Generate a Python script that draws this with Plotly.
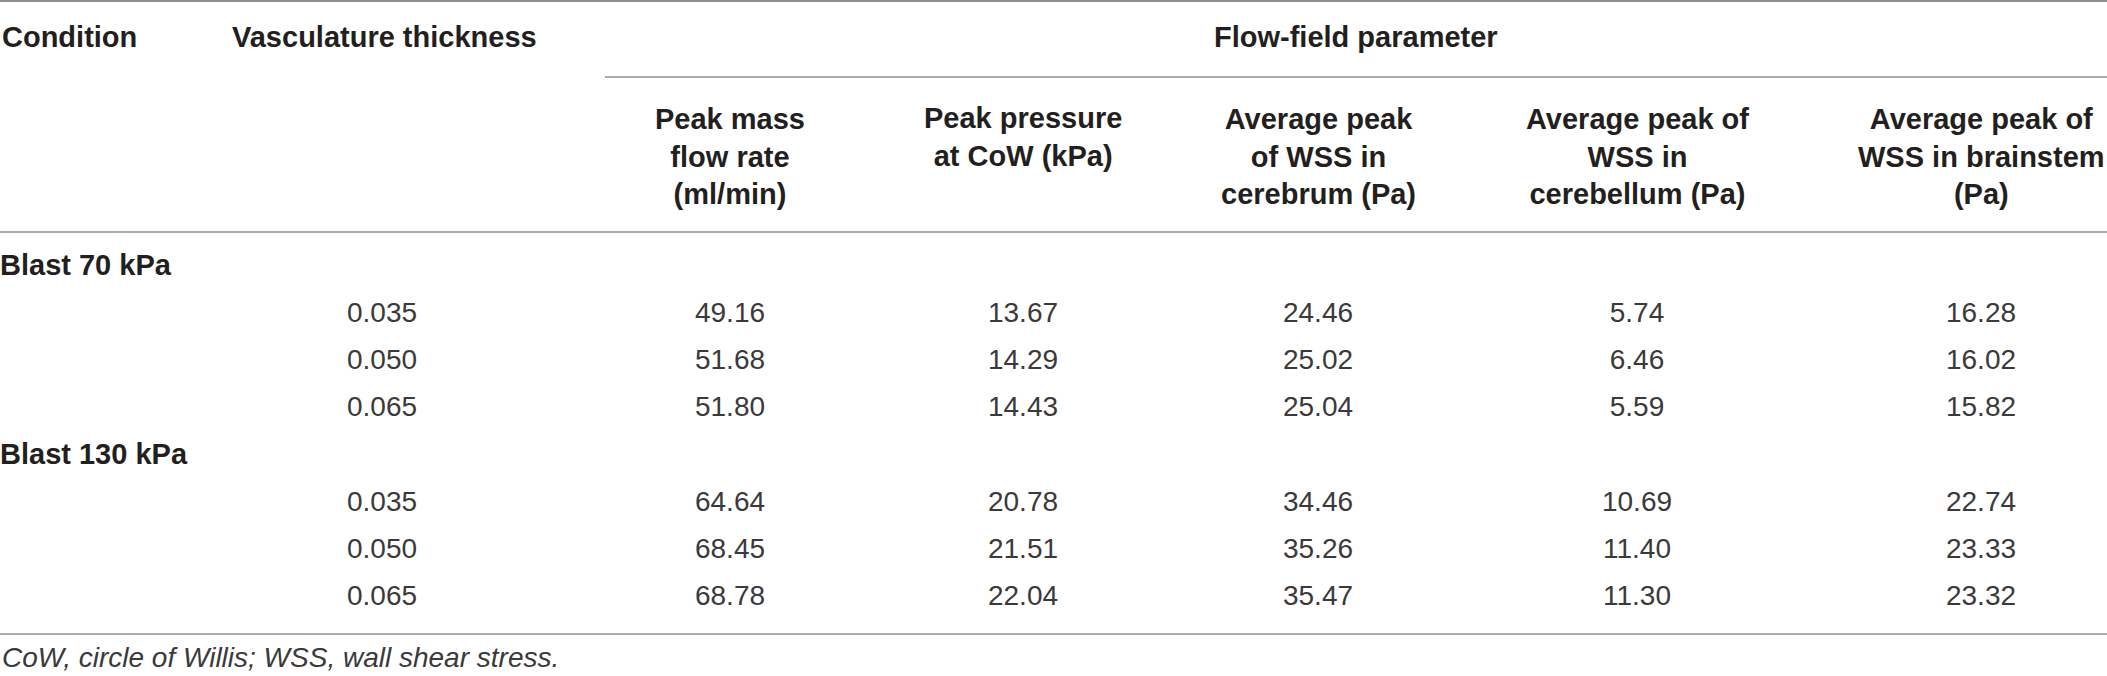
import plotly.graph_objects as go

# Table content
conditions = ["Blast 70 kPa", "Blast 130 kPa"]
thickness = ["0.035", "0.050", "0.065"]

col_headers = [
    "Peak mass<br>flow rate<br>(ml/min)",
    "Peak pressure<br>at CoW (kPa)",
    "Average peak<br>of WSS in<br>cerebrum (Pa)",
    "Average peak of<br>WSS in<br>cerebellum (Pa)",
    "Average peak of<br>WSS in brainstem<br>(Pa)",
]

mass_flow = [49.16, 51.68, 51.80, 64.64, 68.45, 68.78]
pressure_cow = [13.67, 14.29, 14.43, 20.78, 21.51, 22.04]
wss_cerebrum = [24.46, 25.02, 25.04, 34.46, 35.26, 35.47]
wss_cerebellum = [5.74, 6.46, 5.59, 10.69, 11.40, 11.30]
wss_brainstem = [16.28, 16.02, 15.82, 22.74, 23.33, 23.32]

footnote = "CoW, circle of Willis; WSS, wall shear stress."

# Layout (pixel space)
W, H = 2107, 676
thick_x = 382
value_cols_x = [730, 1023, 1318, 1637, 1981]
row0_y, row_step = 268, 47.1
bold = dict(family="Liberation Sans", size=29, color="#231f20", weight="bold")
plain = dict(family="Liberation Sans", size=28, color="#3a3a3a")
rule = "#8f8f8f"

fig = go.Figure()

# row positions: group label, then three thickness rows per group
label_y, data_y, data_thick = [], [], []
i = 0
for c in conditions:
    label_y.append(row0_y + i * row_step)
    i += 1
    for t in thickness:
        data_y.append(row0_y + i * row_step)
        data_thick.append(t)
        i += 1

fig.add_trace(go.Scatter(
    x=[0] * len(conditions), y=label_y, text=conditions, mode="text",
    textposition="middle right", textfont=bold, hoverinfo="skip"))

fig.add_trace(go.Scatter(
    x=[thick_x] * len(data_thick), y=data_y, text=data_thick, mode="text",
    textposition="middle center", textfont=plain, hoverinfo="skip"))

series = [mass_flow, pressure_cow, wss_cerebrum, wss_cerebellum, wss_brainstem]
for cx, vals in zip(value_cols_x, series):
    fig.add_trace(go.Scatter(
        x=[cx] * len(vals), y=data_y, text=[f"{v:.2f}" for v in vals],
        mode="text", textposition="middle center", textfont=plain,
        hoverinfo="skip"))

# header texts
ann = [
    dict(x=0, y=37, text="Condition", xanchor="left"),
    dict(x=230, y=37, text="Vasculature thickness", xanchor="left"),
    dict(x=(605 + W) / 2, y=37, text="Flow-field parameter", xanchor="center"),
]
for cx, h in zip(value_cols_x, col_headers):
    ann.append(dict(x=cx, y=156 if h.count("<br>") == 2 else 137,
                    text=h, xanchor="center"))
for a in ann:
    a.update(xref="x", yref="y", yanchor="middle", showarrow=False,
             font=bold, align="center")
ann.append(dict(x=0, y=657, xref="x", yref="y", text="<i>" + footnote + "</i>",
                xanchor="left", yanchor="middle", showarrow=False, font=plain))
fig.update_layout(annotations=ann)

# horizontal rules
for x0, y, w in [(0, 1, 2), (605, 77, 1.5), (0, 232, 1.5), (0, 634, 1.5)]:
    fig.add_shape(type="line", xref="x", yref="y", x0=x0, x1=W, y0=y, y1=y,
                  line=dict(color=rule, width=w))

fig.update_layout(
    width=W, height=H, margin=dict(l=0, r=0, t=0, b=0),
    paper_bgcolor="white", plot_bgcolor="white", showlegend=False,
    xaxis=dict(range=[0, W], visible=False, fixedrange=True),
    yaxis=dict(range=[H, 0], visible=False, fixedrange=True),
)

fig.write_html("out.html", config={"displayModeBar": False},
               post_script="document.body.style.margin='0';")
